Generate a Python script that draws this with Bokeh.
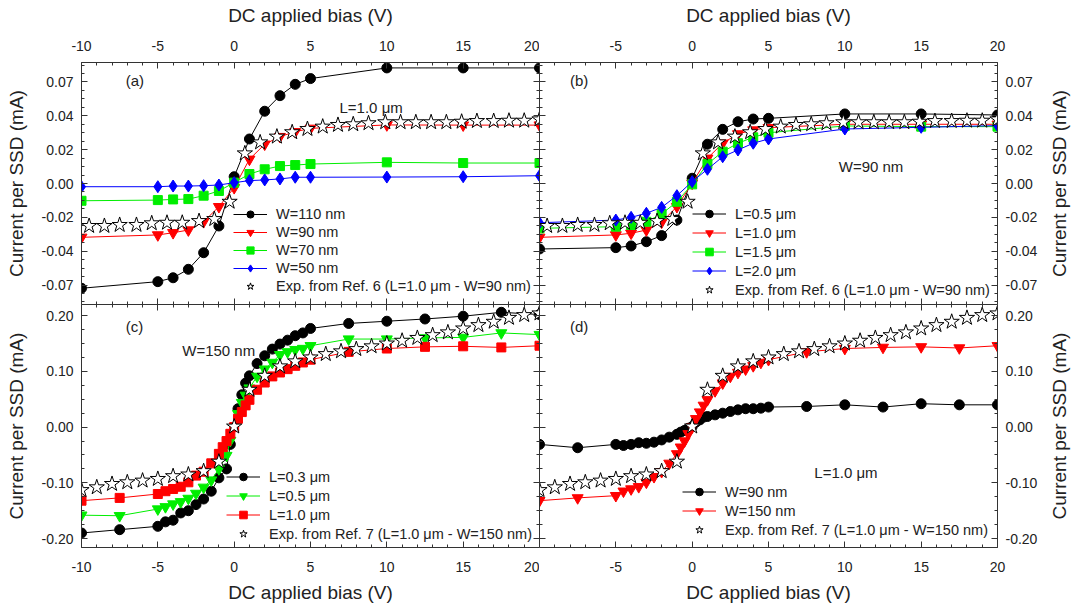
import math
from bokeh.plotting import figure
from bokeh.models import LinearAxis, FixedTicker, Range1d, Legend, LegendItem, Label
from bokeh.layouts import gridplot
from bokeh.embed import file_html
from bokeh.resources import INLINE

FONT = "Liberation Sans"
TXT = "#222222"

# ---------------- data ----------------
# panel (a): L = 1.0 um, varying W
a_v = [-10, -5, -4, -3, -2, -1, 0, 1, 2, 3, 4, 5, 10, 15, 20]
a_w110 = [-0.0619, -0.0580, -0.0557, -0.0507, -0.0409, -0.0251, 0.0040, 0.0263, 0.0427, 0.0519, 0.0586, 0.0620, 0.0683, 0.0683, 0.0683]
a_w90 = [-0.0318, -0.0304, -0.0291, -0.0275, -0.0226, -0.0137, -0.0025, 0.0143, 0.0232, 0.0277, 0.0306, 0.0326, 0.0346, 0.0345, 0.0345]
a_w70 = [-0.0102, -0.0098, -0.0094, -0.0092, -0.0072, -0.0044, 0.0005, 0.0056, 0.0084, 0.0103, 0.0109, 0.0115, 0.0125, 0.0121, 0.0121]
a_w50 = [-0.0019, -0.0019, -0.0015, -0.0015, -0.0013, -0.0009, 0.0005, 0.0017, 0.0021, 0.0027, 0.0037, 0.0037, 0.0038, 0.0040, 0.0046]

# experimental, Ref. 6 (L=1.0 um - W=90 nm)
exp6_v = [-9.5, -8.5, -7.5, -6.4, -5.4, -4.4, -3.4, -2.3, -1.3, -0.3, 0.7, 1.7, 2.8, 3.8, 4.8,
          5.8, 6.8, 7.8, 8.8, 9.9, 10.9, 11.9, 12.9, 13.9, 14.9, 15.9, 17.0, 18.0, 19.0, 20.0]
exp6_i = [-0.0251, -0.0251, -0.0245, -0.0245, -0.0235, -0.0232, -0.0232, -0.0222, -0.0210, -0.0108,
          0.0178, 0.0243, 0.0277, 0.0303, 0.0322, 0.0336, 0.0346, 0.0350, 0.0356, 0.0362,
          0.0362, 0.0362, 0.0362, 0.0362, 0.0365, 0.0369, 0.0369, 0.0371, 0.0371, 0.0379]

# panel (b): W = 90 nm, varying L
b_v = [-10, -5, -4, -3, -2, -1, 0, 1, 2, 3, 4, 5, 10, 15, 20]
b_l05 = [-0.0387, -0.0379, -0.0369, -0.0344, -0.0308, -0.0216, 0.0031, 0.0232, 0.0320, 0.0365, 0.0381, 0.0385, 0.0411, 0.0411, 0.0405]
b_l10 = [-0.0318, -0.0304, -0.0294, -0.0275, -0.0229, -0.0137, 0.0001, 0.0149, 0.0238, 0.0293, 0.0316, 0.0330, 0.0350, 0.0350, 0.0350]
b_l15 = [-0.0265, -0.0255, -0.0245, -0.0226, -0.0180, -0.0108, -0.0005, 0.0115, 0.0188, 0.0238, 0.0273, 0.0300, 0.0340, 0.0336, 0.0336]
b_l20 = [-0.0232, -0.0216, -0.0200, -0.0176, -0.0141, -0.0072, 0.0011, 0.0084, 0.0158, 0.0198, 0.0238, 0.0263, 0.0322, 0.0332, 0.0342]

# panel (c): W = 150 nm, varying L
c_v = [-10, -7.5, -5, -4.5, -4, -3.5, -3, -2.5, -2, -1.5, -1, -0.5, -0.25, 0.25, 0.5, 0.75, 1,
       1.5, 2, 2.5, 3, 3.5, 4, 4.5, 5, 7.5, 10, 12.5, 15, 17.5, 20]
c_l03 = [-0.190, -0.184, -0.178, -0.170, -0.167, -0.154, -0.150, -0.139, -0.129, -0.115, -0.091, -0.075, -0.031,
         0.033, 0.058, 0.079, 0.092, 0.114, 0.128, 0.140, 0.149, 0.156, 0.164, 0.169, 0.177, 0.186, 0.190,
         0.194, 0.199, 0.206, 0.202]
c_l05 = [-0.158, -0.159, -0.147, -0.143, -0.138, -0.134, -0.128, -0.119, -0.108, -0.095, -0.075, -0.051, -0.024,
         0.024, 0.044, 0.057, 0.070, 0.091, 0.104, 0.116, 0.130, 0.135, 0.139, 0.141, 0.146, 0.158, 0.158,
         0.160, 0.161, 0.169, 0.166]
c_v10 = [-10, -7.5, -5, -4.5, -4, -3.5, -3, -2.5, -2, -1.5, -1, -0.75, -0.5, -0.25, 0, 0.25, 0.5, 0.75,
         1, 1.5, 2, 2.5, 3, 3.5, 4, 4.5, 5, 7.5, 10, 12.5, 15, 17.5, 20]
c_l10 = [-0.132, -0.127, -0.120, -0.115, -0.111, -0.107, -0.099, -0.087, -0.080, -0.065, -0.048, -0.036, -0.025,
         -0.012, 0.000, 0.015, 0.027, 0.039, 0.049, 0.067, 0.080, 0.091, 0.098, 0.104, 0.110, 0.116, 0.121,
         0.135, 0.141, 0.144, 0.145, 0.143, 0.146]

# experimental, Ref. 7 (L=1.0 um - W=150 nm)
exp7_v = [-10, -9, -8, -7, -6, -5, -4, -3, -2, -1, 0, 1, 2, 3, 4, 5, 6, 7, 8, 9, 10,
          11, 12, 13, 14, 15, 16, 17, 18, 19, 20]
exp7_i = [-0.113, -0.108, -0.102, -0.099, -0.096, -0.093, -0.088, -0.085, -0.079, -0.062, 0.001,
          0.067, 0.092, 0.109, 0.118, 0.125, 0.131, 0.136, 0.140, 0.145, 0.150,
          0.155, 0.160, 0.165, 0.170, 0.177, 0.183, 0.189, 0.196, 0.201, 0.204]

# panel (d): L = 1.0 um, varying W
d_v = [-10, -7.5, -5, -4.5, -4, -3.5, -3, -2.5, -2, -1.5, -1, -0.75, -0.5, -0.25, 0, 0.25, 0.5, 0.75,
       1, 1.5, 2, 2.5, 3, 3.5, 4, 4.5, 5, 7.5, 10, 12.5, 15, 17.5, 20]
d_w90 = [-0.031, -0.037, -0.031, -0.033, -0.031, -0.028, -0.029, -0.027, -0.023, -0.018, -0.013, -0.009, -0.006,
         -0.002, 0.001, 0.009, 0.013, 0.018, 0.019, 0.022, 0.025, 0.028, 0.031, 0.033, 0.033, 0.034, 0.036,
         0.037, 0.040, 0.036, 0.042, 0.040, 0.040]
d_w150 = [-0.132, -0.127, -0.123, -0.115, -0.111, -0.107, -0.099, -0.089, -0.080, -0.065, -0.048, -0.036, -0.025,
          -0.012, 0.000, 0.015, 0.027, 0.039, 0.049, 0.065, 0.079, 0.091, 0.098, 0.104, 0.110, 0.116, 0.121,
          0.135, 0.141, 0.143, 0.144, 0.142, 0.146]

# tick labels
x_ticks_full = [-10, -5, 0, 5, 10, 15, 20]
x_labels_full = ["-10", "-5", "0", "5", "10", "15", "20"]
x_ticks_right = [-5, 0, 5, 10, 15, 20]
x_labels_right = ["-5", "0", "5", "10", "15", "20"]
top_y_ticks = [-0.06, -0.04, -0.02, 0.0, 0.02, 0.04, 0.06]
top_y_labels = ["-0.07", "-0.04", "-0.02", "0.00", "0.02", "0.04", "0.07"]
bot_y_ticks = [-0.2, -0.1, 0.0, 0.1, 0.2]
bot_y_labels = ["-0.20", "-0.10", "0.00", "0.10", "0.20"]

X_TITLE = "DC applied bias (V)"
Y_TITLE = "Current per SSD (mA)"

x_minor = [float(v) for v in range(-10, 21)]
top_minor = [round(-0.075 + 0.005 * k, 4) for k in range(31)]
bot_minor = [round(-0.225 + 0.025 * k, 4) for k in range(19)]


def add_axis(p, loc, ticks, minor, labeled, labels=None, title=None,
             standoff=8, title_standoff=12):
    ax = LinearAxis(ticker=FixedTicker(ticks=ticks, minor_ticks=minor))
    ax.major_tick_in = 6
    ax.major_tick_out = 0
    ax.minor_tick_in = 3
    ax.minor_tick_out = 0
    ax.axis_line_color = "#333333"
    ax.major_tick_line_color = "#333333"
    ax.minor_tick_line_color = "#333333"
    if labeled:
        ax.major_label_text_font = FONT
        ax.major_label_text_font_size = "14px"
        ax.major_label_text_color = TXT
        ax.major_label_standoff = standoff
        if labels is not None:
            ax.major_label_overrides = {t: l for t, l in zip(ticks, labels)}
        ax.axis_label = title
        ax.axis_label_text_font = FONT
        ax.axis_label_text_font_size = "19px"
        ax.axis_label_text_font_style = "normal"
        ax.axis_label_text_color = TXT
        ax.axis_label_standoff = title_standoff
    else:
        ax.major_label_text_color = None
        ax.axis_label = None
    p.add_layout(ax, loc)


def make_fig(frame_h, yr, left, right, top, bottom):
    p = figure(frame_width=458, frame_height=frame_h,
               x_range=Range1d(-10, 20), y_range=Range1d(*yr),
               x_axis_location=None, y_axis_location=None,
               toolbar_location=None, output_backend="svg",
               min_border_left=left, min_border_right=right,
               min_border_top=top, min_border_bottom=bottom)
    p.xgrid.visible = False
    p.ygrid.visible = False
    p.outline_line_color = None
    p.background_fill_color = "white"
    p.border_fill_color = "white"
    return p


def title_fig(frame_h, top, bottom):
    # narrow strip that carries the right-hand y-axis title (reads bottom-to-top)
    t = figure(frame_width=27, frame_height=frame_h,
               x_range=Range1d(0, 1), y_range=Range1d(0, 1),
               x_axis_location=None, y_axis_location=None,
               toolbar_location=None, output_backend="svg",
               min_border_left=0, min_border_right=0,
               min_border_top=top, min_border_bottom=bottom)
    t.xgrid.visible = False
    t.ygrid.visible = False
    t.outline_line_color = None
    t.background_fill_color = "white"
    t.border_fill_color = "white"
    t.add_layout(Label(x=0.5, y=0.5, text=Y_TITLE, angle=math.pi / 2,
                       text_font=FONT, text_font_size="19px", text_color=TXT,
                       text_align="center", text_baseline="middle"))
    return t


def series(p, x, y, color, marker, size, label):
    r1 = p.line(x, y, line_color=color, line_width=1)
    r2 = p.scatter(x, y, marker=marker, size=size, fill_color=color, line_color=color)
    return LegendItem(label=label, renderers=[r1, r2])


def stars(p, x, y, label):
    r = p.scatter(x, y, marker="star", size=16, fill_color="white", line_color="black", line_width=1)
    return LegendItem(label=label, renderers=[r])


def legend(p, items, loc, row):
    lg = Legend(items=items, location=loc, orientation="vertical",
                label_text_font=FONT, label_text_font_size="14.5px", label_text_color=TXT,
                glyph_width=34, glyph_height=row, label_height=row, spacing=0,
                label_standoff=9, padding=0, margin=0,
                background_fill_alpha=0, border_line_color=None)
    p.add_layout(lg)


def note(p, x, y, text):
    p.add_layout(Label(x=x, y=y, text=text, text_font=FONT, text_font_size="15px",
                       text_color=TXT, text_baseline="middle", text_align="left"))


TOP_YR = (-0.0715, 0.0715)
BOT_YR = (-0.216, 0.22)
RB = 48  # right border of the right-hand panels

# ---------- (a) ----------
pa = make_fig(242, TOP_YR, 81, 0, 62, 0)
add_axis(pa, "left", top_y_ticks, top_minor, True, top_y_labels, Y_TITLE)
add_axis(pa, "above", x_ticks_full, x_minor, True, x_labels_full, X_TITLE, standoff=12, title_standoff=12)
add_axis(pa, "right", top_y_ticks, top_minor, False)
add_axis(pa, "below", x_ticks_full, x_minor, False)
it = [series(pa, a_v, a_w110, "black", "circle", 10, "W=110 nm"),
      series(pa, a_v, a_w90, "red", "inverted_triangle", 11, "W=90 nm"),
      series(pa, a_v, a_w70, "#00ee00", "square", 9, "W=70 nm"),
      series(pa, a_v, a_w50, "blue", "diamond", 12, "W=50 nm"),
      stars(pa, exp6_v, exp6_i, "Exp. from Ref. 6 (L=1.0 μm - W=90 nm)")]
legend(pa, it, (152, 9), 18)
note(pa, -7.1, 0.061, "(a)")
note(pa, 6.9, 0.0452, "L=1.0 μm")

# ---------- (b) ----------
pb = make_fig(242, TOP_YR, 0, RB, 62, 0)
add_axis(pb, "right", top_y_ticks, top_minor, True, top_y_labels, None)
add_axis(pb, "above", x_ticks_right, x_minor, True, x_labels_right, X_TITLE, standoff=12, title_standoff=12)
add_axis(pb, "left", top_y_ticks, top_minor, False)
add_axis(pb, "below", x_ticks_right, x_minor, False)
it = [series(pb, b_v, b_l05, "black", "circle", 10, "L=0.5 μm"),
      series(pb, b_v, b_l10, "red", "inverted_triangle", 11, "L=1.0 μm"),
      series(pb, b_v, b_l15, "#00ee00", "square", 9, "L=1.5 μm"),
      series(pb, b_v, b_l20, "blue", "diamond", 12, "L=2.0 μm"),
      stars(pb, exp6_v, exp6_i, "Exp. from Ref. 6 (L=1.0 μm - W=90 nm)")]
legend(pb, it, (153, 5), 19)
note(pb, -8.0, 0.061, "(b)")
note(pb, 9.6, 0.0103, "W=90 nm")

# ---------- (c) ----------
pc = make_fig(243, BOT_YR, 81, 0, 0, 57)
add_axis(pc, "left", bot_y_ticks, bot_minor, True, bot_y_labels, Y_TITLE)
add_axis(pc, "below", x_ticks_full, x_minor, True, x_labels_full, X_TITLE, standoff=14, title_standoff=7)
add_axis(pc, "right", bot_y_ticks, bot_minor, False)
add_axis(pc, "above", x_ticks_full, x_minor, False)
it = [series(pc, c_v, c_l03, "black", "circle", 10, "L=0.3 μm"),
      series(pc, c_v, c_l05, "#00ee00", "inverted_triangle", 11, "L=0.5 μm"),
      series(pc, c_v10, c_l10, "red", "square", 9, "L=1.0 μm"),
      stars(pc, exp7_v, exp7_i, "Exp. from Ref. 7 (L=1.0 μm - W=150 nm)")]
legend(pc, it, (145, 4), 19)
note(pc, -7.1, 0.180, "(c)")
note(pc, -3.4, 0.137, "W=150 nm")

# ---------- (d) ----------
pd_ = make_fig(243, BOT_YR, 0, RB, 0, 57)
add_axis(pd_, "right", bot_y_ticks, bot_minor, True, bot_y_labels, None)
add_axis(pd_, "below", x_ticks_right, x_minor, True, x_labels_right, X_TITLE, standoff=14, title_standoff=7)
add_axis(pd_, "left", bot_y_ticks, bot_minor, False)
add_axis(pd_, "above", x_ticks_right, x_minor, False)
it = [series(pd_, d_v, d_w90, "black", "circle", 10, "W=90 nm"),
      series(pd_, d_v, d_w150, "red", "inverted_triangle", 11, "W=150 nm"),
      stars(pd_, exp7_v, exp7_i, "Exp. from Ref. 7 (L=1.0 μm - W=150 nm)")]
legend(pd_, it, (143, 8), 19)
note(pd_, -8.0, 0.180, "(d)")
note(pd_, 8.0, -0.0816, "L=1.0 μm")

tb = title_fig(242, 62, 0)
td = title_fig(243, 0, 57)

grid = gridplot([[pa, pb, tb], [pc, pd_, td]], toolbar_location=None)

open("out.html", "w").write(file_html(grid, INLINE))
